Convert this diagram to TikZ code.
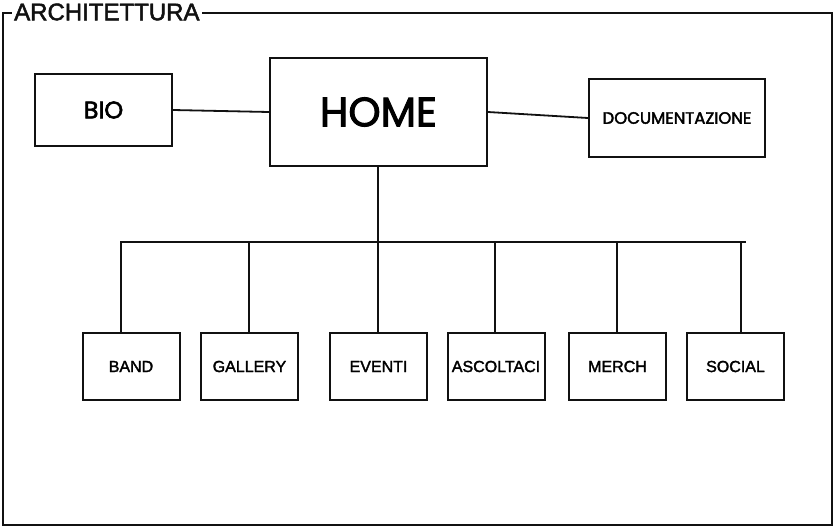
\documentclass[tikz,border=0pt]{standalone}
\usepackage{fontspec}
\setmainfont{Liberation Sans}
\newfontfamily\roundfont{Poppins}[FakeBold=2.4]
\newfontfamily\plainfont{Liberation Sans}[FakeBold=2]
\usepackage{tikz}
\definecolor{ink}{HTML}{111111}
\tikzset{
  pagebox/.style={draw=ink,line width=2pt,fill=white,inner sep=0pt},
  wire/.style={draw=ink,line width=1.8pt}
}

\begin{document}
\begin{tikzpicture}[x=1pt,y=-1pt]
  \useasboundingbox (0,0) rectangle (838,528);
  % outer frame with title
  \draw[ink,line width=2.2pt] (3,13) rectangle (832,525);
  \node[anchor=west,fill=white,inner xsep=2pt,inner ysep=1pt,text=ink] (title) at (12,12)
    {\plainfont\fontsize{24}{24}\selectfont ARCHITETTURA};
  % top row
  \node[pagebox,minimum width=137,minimum height=72] (bio) at (103.5,110)
    {\roundfont\fontsize{24}{24}\selectfont BIO};
  \node[pagebox,minimum width=217,minimum height=108] (home) at (378.5,112)
    {\roundfont\fontsize{41}{41}\selectfont HOME};
  \node[pagebox,minimum width=176,minimum height=78] (doc) at (677,118)
    {\roundfont\fontsize{16.5}{16.5}\selectfont DOCUMENTAZIONE};
  \draw[wire] (bio.east) -- (home.west);
  \draw[wire] (home.east) -- (doc.west);
  % bus to the sections
  \coordinate (busL) at (120,242);
  \coordinate (busR) at (746,242);
  \coordinate (stem) at (378,242);
  \draw[wire] (busL) -- (busR);
  \draw[wire] (stem |- home.south) -- (stem);
  \foreach \nm/\txt/\cx/\dx in {band/BAND/131/121, gallery/GALLERY/249.5/249,
      eventi/EVENTI/378.5/378, ascoltaci/ASCOLTACI/496/495,
      merch/MERCH/617.5/617, social/SOCIAL/735.5/741}{
    \node[pagebox,minimum width=97,minimum height=67] (\nm) at (\cx,366.5)
      {\plainfont\fontsize{16}{16}\selectfont \txt};
    \coordinate (drop-\nm) at (\dx,242);
    \draw[wire] (drop-\nm) -- (drop-\nm |- \nm.north);
  }
\end{tikzpicture}
\end{document}
